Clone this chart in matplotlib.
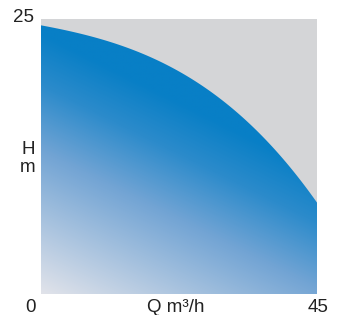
import numpy as np
import matplotlib.pyplot as plt
from matplotlib.colors import LinearSegmentedColormap

plt.rcParams['font.family'] = ['Liberation Sans', 'DejaVu Sans']

# pump curve
flow = [0, 5, 10.8, 16, 21.0, 25, 29.2, 33, 37.3, 41, 45]
head = [24.3, 24.0, 23.1, 22.0, 20.6, 19.3, 17.6, 15.9, 14.0, 11.4, 8.1]
x_ticks = ['0', '45']
y_top = '25'

fig = plt.figure(figsize=(3.45, 3.15), dpi=100)
ax = fig.add_axes([41/345, 21/315, 276/345, 275/315])
ax.set_facecolor('#d4d5d7')
ax.set_xlim(0, 45)
ax.set_ylim(0, 25)

# smooth the curve a bit
q = np.linspace(0, 45, 300)
coef = np.polyfit(flow, head, 3)
h = np.polyval(coef, q)

cmap = LinearSegmentedColormap.from_list(
    'pump', [(0, '#e1e3ea'), (0.55, '#72a4d4'), (0.8, '#2c8bcb'), (1, '#087fc6')])
xx, yy = np.meshgrid(np.linspace(0, 1, 300), np.linspace(0, 1, 300))
t = np.clip((xx + 2 * yy) / 1.9, 0, 1)
img = ax.imshow(t, cmap=cmap, extent=[0, 45, 0, 25], origin='lower',
                aspect='auto', vmin=0, vmax=1, interpolation='bilinear')
poly = ax.fill_between(q, 0, h, color='none')
img.set_clip_path(poly.get_paths()[0], transform=ax.transData)

for s in ax.spines.values():
    s.set_visible(False)
ax.set_xticks([])
ax.set_yticks([])

kw = dict(fontsize=13.5, ha='center', va='center', color='#222222')
fig.text(24/345, 1 - 17/315, y_top, **kw)
fig.text(30/345, 1 - 307/315, x_ticks[0], **kw)
fig.text(318/345, 1 - 307/315, x_ticks[1], **kw)
fig.text(176/345, 1 - 307/315, 'Q m³/h', **kw)
fig.text(28/345, 1 - 150/315, 'H', **kw)
fig.text(28/345, 1 - 168/315, 'm', **kw)

fig.savefig('out.png', dpi=100)
